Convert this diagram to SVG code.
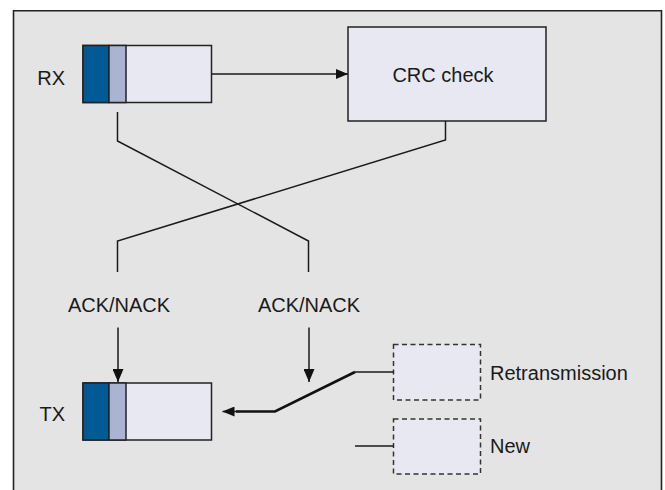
<svg xmlns="http://www.w3.org/2000/svg" width="665" height="490" viewBox="0 0 665 490">
<defs>
<marker id="ah" markerWidth="12" markerHeight="10" refX="12" refY="5" orient="auto" markerUnits="userSpaceOnUse">
<path d="M0,0 L12,5 L0,10 Z" fill="#111"/>
</marker>
<marker id="ahv" markerWidth="13" markerHeight="11" refX="13" refY="5.5" orient="auto" markerUnits="userSpaceOnUse">
<path d="M0,0 L13,5.5 L0,11 Z" fill="#111"/>
</marker>
</defs>
<style>
text{font-family:"Liberation Sans",Arial,sans-serif;font-size:20px;fill:#1a1a1a}
.ln{fill:none;stroke:#1a1a1a;stroke-width:1.5}
.thick{fill:none;stroke:#111;stroke-width:2.6}
.box{fill:#e8e8f2;stroke:#222;stroke-width:1.5}
.dark{fill:#005a96;stroke:#222;stroke-width:1.5}
.mid{fill:#aab4d2;stroke:#222;stroke-width:1.5}
.dash{fill:#e8e8f2;stroke:#333;stroke-width:1.5;stroke-dasharray:5 3.5}
</style>
<rect x="0" y="0" width="665" height="490" fill="#ffffff"/>
<path d="M13.5,495 V10.8 H661.5 V495" fill="#e4e4e4" stroke="#222" stroke-width="1.6"/>

<g id="rx">
<text x="65" y="85" text-anchor="end">RX</text>
<rect class="box" x="83" y="45.5" width="128.5" height="57"/>
<rect class="dark" x="83" y="45.5" width="26" height="57"/>
<rect class="mid" x="109" y="45.5" width="17" height="57"/>
</g>

<g id="crc">
<rect class="box" x="348" y="27" width="198" height="94"/>
<text x="443" y="82" text-anchor="middle">CRC check</text>
</g>

<g id="tx">
<text x="65" y="421" text-anchor="end">TX</text>
<rect class="box" x="83" y="383" width="128.5" height="57"/>
<rect class="dark" x="83" y="383" width="26" height="57"/>
<rect class="mid" x="109" y="383" width="17" height="57"/>
</g>

<g id="retrans">
<rect class="dash" x="393.5" y="344.5" width="87" height="55.5"/>
<text x="490" y="380">Retransmission</text>
</g>

<g id="new">
<rect class="dash" x="393.5" y="419" width="87" height="55"/>
<text x="490" y="453">New</text>
</g>

<g id="labels">
<text x="119" y="311.5" text-anchor="middle">ACK/NACK</text>
<text x="309" y="311.5" text-anchor="middle">ACK/NACK</text>
</g>

<g id="connectors">
<line class="ln" x1="211.5" y1="74" x2="348" y2="74" marker-end="url(#ah)"/>
<polyline class="ln" points="117.5,112 117.5,141 308.5,241 308.5,272"/>
<polyline class="ln" points="445.5,121 445.5,140 117.5,241 117.5,272"/>
<line class="ln" x1="118" y1="327.5" x2="118" y2="382" marker-end="url(#ahv)"/>
<line class="ln" x1="309" y1="327.5" x2="309" y2="382" marker-end="url(#ahv)"/>
<line class="ln" x1="355" y1="372" x2="393.5" y2="372"/>
<line class="ln" x1="355" y1="446" x2="393.5" y2="446"/>
<polyline class="thick" points="355,372 275,411.5 236,411.5"/>
<line class="ln" x1="240" y1="411.5" x2="222.5" y2="411.5" stroke-width="2" marker-end="url(#ah)"/>
</g>
</svg>
